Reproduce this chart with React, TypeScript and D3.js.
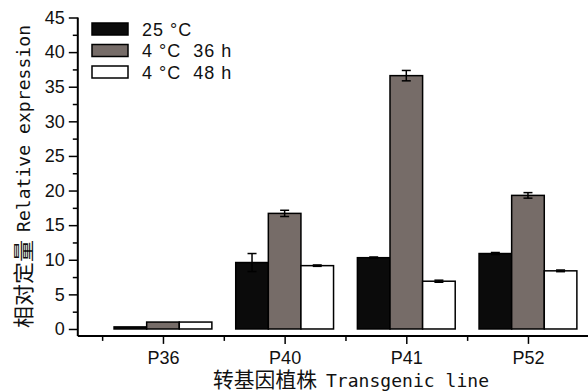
import React, { useEffect, useRef } from 'react';
import * as d3 from 'd3';

const lines = ['P36', 'P40', 'P41', 'P52'];
const seriesNames = ['25 °C', '4 °C  36 h', '4 °C  48 h'];
const seriesColors = ['#0b0b0b', '#766c68', '#ffffff'];
const warm = [0.3, 9.6, 10.3, 10.9];
const warmErr = [0, 1.3, 0.1, 0.15];
const cold36 = [1.0, 16.7, 36.6, 19.3];
const cold36Err = [0, 0.45, 0.75, 0.4];
const cold48 = [1.0, 9.15, 6.9, 8.4];
const cold48Err = [0, 0.1, 0.15, 0.12];
const yTicks = [0, 5, 10, 15, 20, 25, 30, 35, 40, 45];

const App = () => {
  const ref = useRef<SVGSVGElement | null>(null);

  useEffect(() => {
    const svg = d3.select(ref.current);
    svg.selectAll('*').remove();

    const font = 'Liberation Sans, Arial, sans-serif';
    const cjk = 'Noto Sans CJK SC';
    const mono = 'DejaVu Sans Mono';
    const x = d3.scaleLinear().domain([0.3, 4.5]).range([77.8, 588.8]);
    const y = d3.scaleLinear().domain([-1, 45]).range([335.9, 17.5]);
    const barW = x(1.268) - x(1);

    const series = [
      { vals: warm, errs: warmErr },
      { vals: cold36, errs: cold36Err },
      { vals: cold48, errs: cold48Err },
    ];

    const g = svg.append('g');

    // bars + error bars
    series.forEach((s, si) => {
      lines.forEach((_, i) => {
        const cx = x(i + 1) + (si - 1) * barW;
        const v = s.vals[i];
        g.append('rect')
          .attr('x', cx - barW / 2)
          .attr('y', y(v))
          .attr('width', barW)
          .attr('height', y(0) - y(v))
          .attr('fill', seriesColors[si])
          .attr('stroke', '#000')
          .attr('stroke-width', 1.5);
        const e = s.errs[i];
        if (e > 0) {
          const eg = g.append('g').attr('stroke', '#000').attr('stroke-width', 1.5);
          eg.append('line').attr('x1', cx).attr('x2', cx).attr('y1', y(v - e)).attr('y2', y(v + e));
          [v - e, v + e].forEach((t) => {
            eg.append('line').attr('x1', cx - 4.5).attr('x2', cx + 4.5).attr('y1', y(t)).attr('y2', y(t));
          });
        }
      });
    });

    // y axis
    const yAxis = d3.axisLeft(y).tickValues(yTicks).tickSize(9).tickPadding(4);
    const ya = g.append('g').attr('transform', `translate(${x(0.3)},0)`).call(yAxis);
    ya.select('.domain').attr('stroke-width', 2).attr('d', `M0,${y(-1)}V${y(45)}`);
    ya.selectAll('.tick line').attr('stroke-width', 1.5);
    ya.selectAll('.tick text').style('font-family', font).style('font-size', '18px').attr('fill', '#111');
    const yMinor = d3.axisLeft(y).tickValues(d3.range(2.5, 45, 5)).tickSize(5).tickFormat(() => '');
    const ym = g.append('g').attr('transform', `translate(${x(0.3)},0)`).call(yMinor);
    ym.select('.domain').remove();
    ym.selectAll('.tick line').attr('stroke-width', 1.5);

    // x axis
    const xAxis = d3.axisBottom(x).tickValues([1, 2, 3, 4]).tickSize(8).tickPadding(7)
      .tickFormat((d) => lines[(d as number) - 1]);
    const xa = g.append('g').attr('transform', `translate(0,${y(-1)})`).call(xAxis);
    xa.select('.domain').attr('stroke-width', 2).attr('d', `M${x(0.3)},0H${x(4.5)}`);
    xa.selectAll('.tick line').attr('stroke-width', 1.5);
    xa.selectAll('.tick text').style('font-family', font).style('font-size', '18px').attr('fill', '#111');
    const xMinor = d3.axisBottom(x).tickValues([0.5, 1.5, 2.5, 3.5, 4.5]).tickSize(5).tickFormat(() => '');
    const xm = g.append('g').attr('transform', `translate(0,${y(-1)})`).call(xMinor);
    xm.select('.domain').remove();
    xm.selectAll('.tick line').attr('stroke-width', 1.5);

    // x axis title
    svg.append('text')
      .attr('x', 213).attr('y', 387)
      .attr('textLength', 104).attr('lengthAdjust', 'spacingAndGlyphs')
      .style('font-family', cjk).style('font-size', '21px')
      .attr('fill', '#111').text('转基因植株');
    svg.append('text')
      .attr('x', 326).attr('y', 387)
      .attr('textLength', 163).attr('lengthAdjust', 'spacing')
      .style('font-family', mono).style('font-size', '18px')
      .attr('fill', '#111').text('Transgenic line');

    // y axis title
    svg.append('text')
      .attr('transform', 'translate(31,328) rotate(-90)')
      .attr('textLength', 88).attr('lengthAdjust', 'spacingAndGlyphs')
      .style('font-family', cjk).style('font-size', '21px')
      .attr('fill', '#111').text('相对定量');
    svg.append('text')
      .attr('transform', 'translate(30,232) rotate(-90)')
      .attr('textLength', 207).attr('lengthAdjust', 'spacing')
      .style('font-family', mono).style('font-size', '18px')
      .attr('fill', '#111').text('Relative expression');

    // legend
    const lg = svg.append('g').attr('transform', 'translate(92,23)');
    seriesNames.forEach((n, i) => {
      const row = lg.append('g').attr('transform', `translate(0,${i * 21.5})`);
      row.append('rect').attr('width', 36).attr('height', 12)
        .attr('fill', seriesColors[i]).attr('stroke', '#000').attr('stroke-width', 1.5);
      row.append('text').attr('x', 50).attr('y', 12.5)
        .style('font-family', font).style('font-size', '18px').style('white-space', 'pre')
        .style('letter-spacing', '1px')
        .attr('fill', '#111').text(n);
    });
  }, []);

  return <svg ref={ref} width={588} height={392} style={{ position: 'absolute', left: 0, top: 0 }} />;
};

export default App;
